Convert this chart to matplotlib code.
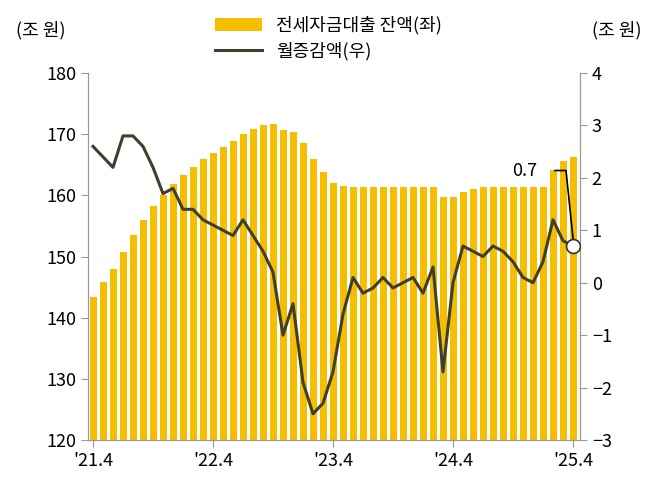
import numpy as np
import matplotlib.pyplot as plt

plt.rcParams["font.family"] = ["Noto Sans CJK KR", "Noto Sans CJK JP", "Noto Sans CJK SC", "DejaVu Sans"]

# 2021.4 ~ 2025.4 monthly
balance = [143.4, 145.8, 148.0, 150.8, 153.5, 156.0, 158.3, 160.0, 161.9, 163.3,
           164.6, 165.9, 166.9, 167.9, 168.9, 170.0, 170.8, 171.5, 171.6, 170.7,
           170.3, 168.5, 166.0, 163.8, 162.0, 161.5, 161.3, 161.3, 161.3, 161.3,
           161.3, 161.3, 161.3, 161.3, 161.4, 159.8, 159.8, 160.5, 161.0, 161.3,
           161.3, 161.3, 161.3, 161.3, 161.3, 161.3, 164.2, 165.6, 166.3]
change = [2.6, 2.4, 2.2, 2.8, 2.8, 2.6, 2.2, 1.7, 1.8, 1.4,
          1.4, 1.2, 1.1, 1.0, 0.9, 1.2, 0.9, 0.6, 0.2, -1.0,
          -0.4, -1.9, -2.5, -2.3, -1.7, -0.6, 0.1, -0.2, -0.1, 0.1,
          -0.1, 0.0, 0.1, -0.2, 0.3, -1.7, 0.0, 0.7, 0.6, 0.5,
          0.7, 0.6, 0.4, 0.1, 0.0, 0.4, 1.2, 0.8, 0.7]
tick_labels = ["'21.4", "'22.4", "'23.4", "'24.4", "'25.4"]

x = np.arange(len(balance))
gray = "#999999"

fig = plt.figure(figsize=(6.57, 4.93), dpi=100)
ax = fig.add_axes([88 / 657, 1 - 440 / 493, 492 / 657, 367 / 493])
ax2 = ax.twinx()

ax.bar(x, balance, width=0.7, color="#F5BE00", label="전세자금대출 잔액(좌)", zorder=2)
ax.set_ylim(120, 180)
ax.set_xlim(-0.5, len(x) - 0.3)
ax.set_yticks(range(120, 181, 10))
ax.set_xticks(range(0, len(x), 12))
ax.set_xticklabels(tick_labels)

ax2.plot(x, change, color="#3F3F2C", lw=2.2, label="월증감액(우)", zorder=3)
ax2.plot(x[-1], change[-1], "o", ms=10, mfc="white", mec="#333333", mew=1.2, zorder=4)
ax2.set_ylim(-3, 4)
ax2.set_yticks(range(-3, 5))
ax2.plot([x[-1] - 1.8, x[-1] - 0.7, x[-1]], [2.14, 2.14, change[-1] + 0.15], color="black", lw=1.2)
ax2.text(x[-1] - 3.6, 2.14, "0.7", fontsize=13, ha="right", va="center")

for a in (ax, ax2):
    for s in a.spines.values():
        s.set_color(gray)
    a.spines["top"].set_visible(False)
    a.tick_params(colors=gray, labelcolor="black", labelsize=13, length=5)
ax.tick_params(axis="x", labelsize=13, pad=4)

fig.text(16 / 657, 1 - 30 / 493, "(조 원)", fontsize=13, va="center")
fig.text(641 / 657, 1 - 30 / 493, "(조 원)", fontsize=13, va="center", ha="right")

h1, l1 = ax.get_legend_handles_labels()
h2, l2 = ax2.get_legend_handles_labels()
fig.legend(h1 + h2, l1 + l2, loc="upper center", bbox_to_anchor=(0.5, 1.0),
           frameon=False, fontsize=13, handlelength=2.6, labelspacing=0.4)

fig.savefig("out.png", dpi=100)
